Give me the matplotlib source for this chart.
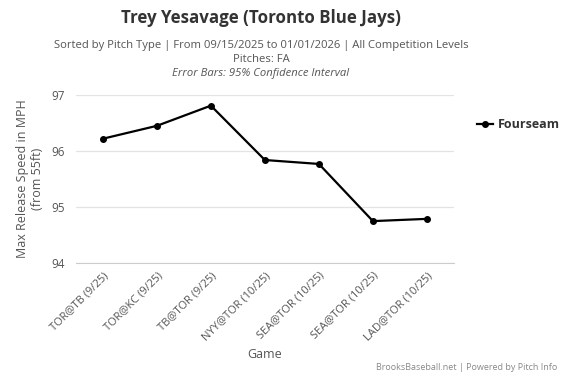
import matplotlib
matplotlib.use('Agg')
import matplotlib.pyplot as plt

plt.rcParams['font.family'] = ['Open Sans', 'DejaVu Sans']

# game labels and max release speed (mph) for the fourseam
games = ['TOR@TB (9/25)', 'TOR@KC (9/25)', 'TB@TOR (9/25)', 'NYY@TOR (10/25)',
         'SEA@TOR (10/25)', 'SEA@TOR (10/25)', 'LAD@TOR (10/25)']
fourseam = [96.22, 96.45, 96.81, 95.84, 95.77, 94.75, 94.79]
yticks = [94, 95, 96, 97]

fig = plt.figure(figsize=(5.66, 3.77), dpi=100)
ax = fig.add_axes([0.134, 0.302, 0.668, 0.446])

x = list(range(len(games)))
ax.plot(x, fourseam, color='black', linewidth=1.6, marker='o', markersize=4, label='Fourseam')

ax.set_xlim(-0.5, len(games) - 0.5)
ax.set_ylim(94, 97)
ax.set_yticks(yticks)
ax.set_xticks(x)
ax.set_xticklabels(games, rotation=45, ha='right', rotation_mode='anchor', fontsize=8, color='#555555')
ax.tick_params(axis='y', labelsize=8.5, colors='#555555', length=0, pad=8)
ax.tick_params(axis='x', length=0, pad=5)
ax.grid(axis='y', color='#e3e3e3', linewidth=0.9)
ax.set_axisbelow(True)
for s in ['top', 'right', 'left']:
    ax.spines[s].set_visible(False)
ax.spines['bottom'].set_color('#cccccc')

ax.set_xlabel('Game', fontsize=9, color='#555555', labelpad=4)
ax.set_ylabel('Max Release Speed in MPH\n(from 55ft)', fontsize=9, color='#555555', labelpad=5)

leg = ax.legend(loc='upper left', bbox_to_anchor=(1.03, 0.93), frameon=False,
                prop={'weight': 'bold', 'size': 9}, handlelength=1.3, handletextpad=0.4)
for t in leg.get_texts():
    t.set_color('#333333')

cx = 0.461
fig.text(cx, 0.952, 'Trey Yesavage (Toronto Blue Jays)', ha='center', va='center',
         fontsize=12.2, fontweight='bold', color='#333333')
fig.text(cx, 0.879, 'Sorted by Pitch Type | From 09/15/2025 to 01/01/2026 | All Competition Levels',
         ha='center', va='center', fontsize=8.1, color='#555555')
fig.text(cx, 0.842, 'Pitches: FA', ha='center', va='center', fontsize=8.1, color='#555555')
fig.text(cx, 0.806, 'Error Bars: 95% Confidence Interval', ha='center', va='center',
         fontsize=8.1, color='#555555', style='italic')
fig.text(0.985, 0.025, 'BrooksBaseball.net | Powered by Pitch Info', ha='right', va='center',
         fontsize=6.5, color='#888888')

fig.savefig('out.png', dpi=100)
